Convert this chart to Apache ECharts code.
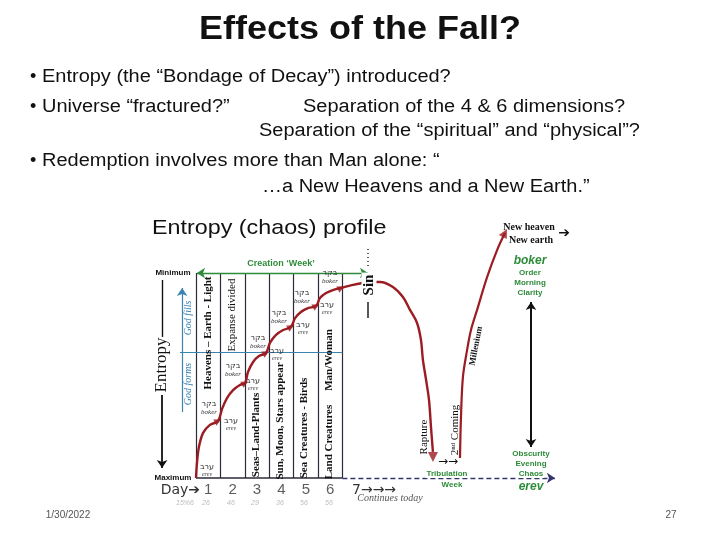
<!DOCTYPE html>
<html><head><meta charset="utf-8">
<script src="https://cdn.jsdelivr.net/npm/echarts@6/dist/echarts.min.js"></script>
<style>html,body{margin:0;padding:0;background:#fff}#c{width:720px;height:540px}</style>
</head><body><div id="c"></div>
<script>
// ---- data (x = creation days, y = order level: 0 = maximum entropy, 10 = minimum) ----
var dayLabels = ['1','2','3','4','5','6'];
var dayLabelX = [0.5,1.5,2.5,3.5,4.5,5.5];
var dayDividers = [0,1,2,3,4,5,6];
var pathX = [0,0.04,0.12,0.29,0.57,0.9, 1.07,1.27,1.52,1.8,2.01, 2.13,2.34,2.58,2.87, 3.03,3.28,3.57,3.89, 4.06,4.3,4.59,4.92, 5.08,5.33,5.61,5.94, 6.39,6.84,7.21,7.54,8.07,8.48,8.77,9.06,9.22,9.3,9.43,9.55,9.63,9.71];
var pathY = [0,0.73,1.51,2.2,2.59,2.78, 3.37,3.9,4.29,4.54,4.63, 5.17,5.66,5.95,6.1, 6.59,6.98,7.22,7.37, 7.8,8.1,8.29,8.39, 8.78,9.02,9.17,9.27, 9.41,9.51,9.56,9.56,9.32,8.83,8.2,7.56,6.73,5.76,4.78,3.8,2.49,1.27];
var returnX = [10.82,10.86,10.94,11.11,11.27,11.52,11.93,12.34,12.66];
var returnY = [0.98,2.98,4.93,6.24,7.22,8.2,9.8,11.12,11.95];
var nodeX = [0.9,2.01,2.87,3.89,4.92,5.94];
var nodeY = [2.78,4.63,6.1,7.37,8.39,9.27];
var dayPercents = ['15%6','26','46','29','36','56','56'];

var RED = '#9B1C22', GREEN = '#2E8B3A', BLUE = '#3C84B0', INK = '#2B2B3B';
var SANS = '"Liberation Sans", Arial, sans-serif';
var SERIF = '"Liberation Serif", "DejaVu Serif", serif';

function zip(a, b) { return a.map(function (v, i) { return [v, b[i]]; }); }
function seg(p1, p2, style, s1, s2) {
  return [{coord: p1, symbol: s1 || 'none', symbolSize: 8, lineStyle: style},
          {coord: p2, symbol: s2 || 'none', symbolSize: 8}];
}
var markLines = [];
dayDividers.forEach(function (d) {
  markLines.push(seg([d, 0], [d, 10], {color: INK, width: 1.2, type: 'solid'}));
});
markLines.push(seg([0, 0], [6, 0], {color: INK, width: 1.6, type: 'solid'}));
markLines.push(seg([6, 0], [14.71, 0], {color: '#34346E', width: 1.3, type: [5, 3]}, 'none', 'arrow'));
markLines.push(seg([-0.66, 6.15], [6, 6.15], {color: BLUE, width: 1, type: 'solid'}));
markLines.push(seg([-0.57, 3.22], [-0.57, 9.27], {color: BLUE, width: 1.2, type: 'solid'}, 'none', 'arrow'));
markLines.push(seg([0.04, 10], [7.05, 10], {color: GREEN, width: 1.3, type: 'solid'}, 'arrow', 'arrow'));
markLines.push(seg([-1.39, 9.66], [-1.39, 6.88], {color: '#111', width: 1.4, type: 'solid'}));
markLines.push(seg([-1.39, 4.05], [-1.39, 0.49], {color: '#111', width: 1.8, type: 'solid'}, 'none', 'arrow'));
markLines.push(seg([13.73, 8.59], [13.73, 1.51], {color: '#111', width: 2, type: 'solid'}, 'arrow', 'arrow'));

function txt(x, y, text, font, fill, o) {
  o = o || {};
  var st = {text: text, font: font, fill: fill, align: o.align || 'center', verticalAlign: 'middle'};
  if (o.bg) { st.backgroundColor = o.bg; st.padding = o.pad || [0, 2]; }
  return {type: 'text', x: x, y: y, rotation: o.rot || 0, scaleX: o.sx || 1, z: 100, style: st};
}
var V = Math.PI / 2;
var g = [];
// header texts
g.push(txt(360, 30, 'Effects of the Fall?', 'bold 33px ' + SANS, '#111', {sx: 1.09}));
var BF = '18px ' + SANS, SX = 1.11;
g.push(txt(30, 77, '•', BF, '#111', {align: 'left'}));
g.push(txt(42, 77, 'Entropy (the “Bondage of Decay”) introduced?', BF, '#111', {align: 'left', sx: SX}));
g.push(txt(30, 107, '•', BF, '#111', {align: 'left'}));
g.push(txt(42, 107, 'Universe “fractured?”', BF, '#111', {align: 'left', sx: SX}));
g.push(txt(303, 107, 'Separation of the 4 & 6 dimensions?', BF, '#111', {align: 'left', sx: SX}));
g.push(txt(259, 131, 'Separation of the “spiritual” and “physical”?', BF, '#111', {align: 'left', sx: SX}));
g.push(txt(30, 161, '•', BF, '#111', {align: 'left'}));
g.push(txt(42, 161, 'Redemption involves more than Man alone: “', BF, '#111', {align: 'left', sx: SX}));
g.push(txt(262, 187, '…a New Heavens and a New Earth.”', BF, '#111', {align: 'left', sx: SX}));
// chart annotations
g.push(txt(152, 228, 'Entropy (chaos) profile', '21px ' + SANS, '#111', {align: 'left', sx: 1.11}));
g.push(txt(281, 264, 'Creation ‘Week’', 'bold 9px ' + SANS, GREEN));
g.push(txt(173, 273, 'Minimum', 'bold 8px ' + SANS, '#111'));
g.push(txt(173, 478, 'Maximum', 'bold 8px ' + SANS, '#111'));
g.push(txt(162, 365, 'Entropy', '17px ' + SERIF, '#111', {rot: V}));
g.push(txt(188, 318, 'God fills', 'italic 10px ' + SERIF, BLUE, {rot: V}));
g.push(txt(188, 384, 'God forms', 'italic 10px ' + SERIF, BLUE, {rot: V}));
var CF = 'bold 11px ' + SERIF;
g.push(txt(208, 333, 'Heavens – Earth - Light', CF, '#111', {rot: V}));
g.push(txt(232, 315, 'Expanse divided', '11px ' + SERIF, '#111', {rot: V}));
g.push(txt(256, 435, 'Seas–Land-Plants', CF, '#111', {rot: V}));
g.push(txt(280, 421, 'Sun, Moon, Stars appear', CF, '#111', {rot: V}));
g.push(txt(304, 428, 'Sea Creatures - Birds', CF, '#111', {rot: V}));
g.push(txt(329, 442, 'Land Creatures', CF, '#111', {rot: V}));
g.push(txt(329, 360, 'Man/Woman', CF, '#111', {rot: V}));
// Hebrew boker / erev labels
var bokerPos = [[209,404],[233,366],[258,338],[279,313],[302,293],[330,273]];
var erevPos = [[207,467],[231,421],[253,381],[277,351],[303,325],[327,305]];
bokerPos.forEach(function (p) {
  g.push(txt(p[0], p[1], 'בקר', '8px "DejaVu Sans"', '#333'));
  g.push(txt(p[0], p[1] + 8, 'boker', 'italic 7px ' + SERIF, '#333'));
});
erevPos.forEach(function (p) {
  g.push(txt(p[0], p[1], 'ערב', '8px "DejaVu Sans"', '#333'));
  g.push(txt(p[0], p[1] + 7, 'erev', 'italic 6px ' + SERIF, '#444'));
});
// Sin
g.push({type: 'line', z: 90, shape: {x1: 368, y1: 249, x2: 368, y2: 268}, style: {stroke: '#222', lineWidth: 1.5, lineDash: [1, 3]}});
g.push({type: 'line', z: 90, shape: {x1: 368, y1: 302, x2: 368, y2: 318}, style: {stroke: '#222', lineWidth: 1.5}});
g.push(txt(369, 285, 'Sin', 'bold 15px ' + SERIF, '#111', {rot: V, bg: '#fff', pad: [0, 2]}));
// right side
g.push(txt(529, 227, 'New heaven', 'bold 10px ' + SERIF, '#111'));
g.push(txt(531, 240, 'New earth', 'bold 10px ' + SERIF, '#111'));
g.push(txt(564, 233, '➔', '14px "DejaVu Sans"', '#111'));
g.push(txt(530, 261, 'boker', 'italic bold 12px ' + SANS, GREEN));
g.push(txt(530, 273, 'Order', 'bold 8px ' + SANS, GREEN));
g.push(txt(530, 283, 'Morning', 'bold 8px ' + SANS, GREEN));
g.push(txt(530, 293, 'Clarity', 'bold 8px ' + SANS, GREEN));
g.push(txt(531, 454, 'Obscurity', 'bold 8px ' + SANS, GREEN));
g.push(txt(531, 464, 'Evening', 'bold 8px ' + SANS, GREEN));
g.push(txt(531, 474, 'Chaos', 'bold 8px ' + SANS, GREEN, {bg: '#fff', pad: [0, 1]}));
g.push(txt(531, 487, 'erev', 'italic bold 12px ' + SANS, GREEN));
g.push(txt(447, 474, 'Tribulation', 'bold 8px ' + SANS, GREEN, {bg: '#fff', pad: [0, 1]}));
g.push(txt(452, 485, 'Week', 'bold 8px ' + SANS, GREEN));
g.push(txt(424, 437, 'Rapture', '11px ' + SERIF, '#111', {rot: V}));
g.push(txt(455, 430, '2ⁿᵈ Coming', '11px ' + SERIF, '#111', {rot: V}));
g.push(txt(448, 462, '→→', '12px "DejaVu Sans"', '#111'));
g.push(txt(476, 346, 'Millenium', 'bold 9px ' + SERIF, '#111', {rot: 1.38}));
// day row
g.push(txt(200, 490, 'Day➔', '14px "DejaVu Sans"', '#333', {align: 'right'}));
g.push(txt(352, 490, '7→→→', '14px "DejaVu Sans"', '#333', {align: 'left'}));
g.push(txt(390, 498, 'Continues today', 'italic 10px ' + SERIF, '#555'));
var pctX = [185, 206, 231, 255, 280, 304, 329];
dayPercents.forEach(function (t, i) { g.push(txt(pctX[i], 503, t, 'italic 7px ' + SANS, '#bbb')); });
// footer
g.push(txt(68, 515, '1/30/2022', '10px ' + SANS, '#555'));
g.push(txt(671, 515, '27', '10px ' + SANS, '#555'));

var chart = echarts.init(document.getElementById('c'), null, {renderer: 'canvas'});
chart.setOption({
  animation: false,
  backgroundColor: '#fff',
  grid: {left: 147.2, right: 133.6, top: 221.75, bottom: 41.5},
  xAxis: {type: 'value', min: -2, max: 16, show: false},
  yAxis: {type: 'value', min: -1, max: 12.5, show: false},
  graphic: g,
  series: [
    {
      name: 'creation and fall', type: 'line', data: zip(pathX, pathY), smooth: 0.35,
      symbol: 'none', clip: false, z: 5,
      lineStyle: {color: RED, width: 2.4},
      markLine: {silent: true, symbol: ['none', 'none'], label: {show: false}, data: markLines}
    },
    {
      name: 'return', type: 'line', data: zip(returnX, returnY), smooth: 0.35,
      symbol: 'none', clip: false, z: 5,
      lineStyle: {color: RED, width: 2.2}
    },
    {
      name: 'nodes', type: 'scatter', data: zip(nodeX, nodeY), symbol: 'triangle',
      symbolSize: 7, symbolRotate: -62, itemStyle: {color: RED}, z: 6
    },
    {
      name: 'ends', type: 'scatter', z: 6, itemStyle: {color: RED},
      data: [
        {value: [pathX[pathX.length - 1], pathY[pathY.length - 1] - 0.25], symbol: 'triangle', symbolSize: 10, symbolRotate: 180},
        {value: [returnX[returnX.length - 1], returnY[returnY.length - 1]], symbol: 'triangle', symbolSize: 9, symbolRotate: -28}
      ]
    },
    {
      name: 'days', type: 'scatter', symbolSize: 0, silent: true,
      data: dayLabels.map(function (t, i) { return {value: [dayLabelX[i], -0.59], name: t}; }),
      label: {show: true, position: 'inside', formatter: '{b}', color: '#333', fontSize: 15, fontFamily: 'Liberation Sans'}
    }
  ]
});
</script></body></html>
